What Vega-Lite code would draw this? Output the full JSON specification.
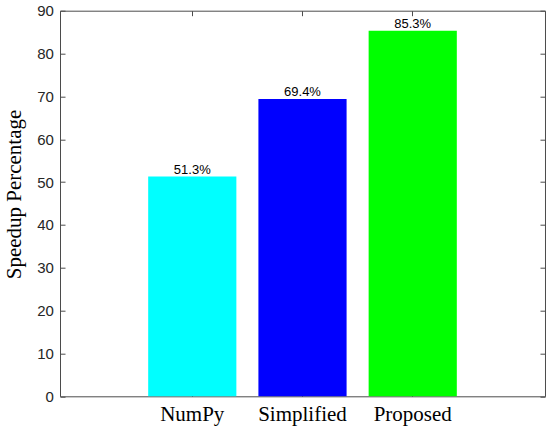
{
  "$schema": "https://vega.github.io/schema/vega-lite/v6.json",
  "description": "Speedup percentage of three implementations",
  "autosize": "none",
  "padding": {"left": 60, "top": 10.7, "right": 5, "bottom": 34},
  "width": 485,
  "height": 385.6,
  "config": {
    "view": {"stroke": null},
    "axis": {"grid": false, "zindex": 1, "domainColor": "#4a4a4a", "tickColor": "#4a4a4a", "domainWidth": 1, "tickWidth": 1}
  },
  "data": {
    "values": [
      {"method": "NumPy", "value": 51.3, "label": "51.3%"},
      {"method": "Simplified", "value": 69.4, "label": "69.4%"},
      {"method": "Proposed", "value": 85.3, "label": "85.3%"}
    ]
  },
  "encoding": {
    "x": {
      "field": "method",
      "type": "nominal",
      "sort": null,
      "scale": {"paddingInner": 0.2, "paddingOuter": 0.8}
    },
    "y": {
      "field": "value",
      "type": "quantitative",
      "scale": {"domain": [0, 90], "nice": false, "zero": true}
    }
  },
  "layer": [
    {
      "mark": {"type": "bar"},
      "encoding": {
        "x": {
          "field": "method",
          "type": "nominal",
          "sort": null,
          "axis": {
            "orient": "bottom",
            "title": null,
            "labelAngle": 0,
            "labelFont": "Liberation Serif",
            "labelFontSize": 21,
            "labelColor": "#000000",
            "labelBaseline": "alphabetic",
            "tickSize": -5,
            "labelPadding": 29.4
          }
        },
        "y": {
          "field": "value",
          "type": "quantitative",
          "axis": {
            "orient": "left",
            "values": [0, 10, 20, 30, 40, 50, 60, 70, 80, 90],
            "labelFont": "Liberation Sans",
            "labelFontSize": 15,
            "labelColor": "#262626",
            "tickSize": -5,
            "labelPadding": 11.7,
            "title": "Speedup Percentage",
            "titleFont": "Liberation Serif",
            "titleFontSize": 21,
            "titleFontWeight": "normal",
            "titleColor": "#000000",
            "titleX": -39.3,
            "titleY": 183.3,
            "titleAngle": -90,
            "titleAlign": "center",
            "titleBaseline": "alphabetic"
          }
        },
        "color": {
          "field": "method",
          "type": "nominal",
          "scale": {
            "domain": ["NumPy", "Simplified", "Proposed"],
            "range": ["#00FFFF", "#0000FF", "#00FF00"]
          },
          "legend": null
        }
      }
    },
    {
      "mark": {
        "type": "text",
        "font": "Liberation Sans",
        "fontSize": 13,
        "baseline": "alphabetic",
        "dy": -2.5,
        "color": "#000000"
      },
      "encoding": {
        "x": {
          "field": "method",
          "type": "nominal",
          "sort": null,
          "axis": {
            "orient": "top",
            "title": null,
            "labels": false,
            "tickSize": -5
          }
        },
        "y": {
          "field": "value",
          "type": "quantitative",
          "axis": {
            "orient": "right",
            "title": null,
            "labels": false,
            "values": [0, 10, 20, 30, 40, 50, 60, 70, 80, 90],
            "tickSize": -5
          }
        },
        "text": {"field": "label"}
      }
    }
  ],
  "resolve": {"axis": {"x": "independent", "y": "independent"}}
}
